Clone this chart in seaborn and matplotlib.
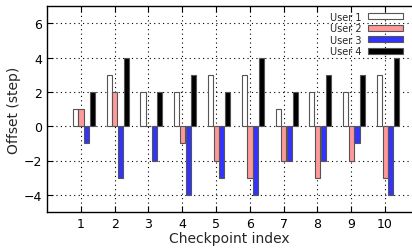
import pandas as pd
import matplotlib
matplotlib.use("Agg")
import matplotlib.pyplot as plt
import seaborn as sns

# data
checkpoints = [1, 2, 3, 4, 5, 6, 7, 8, 9, 10]
user1 = [1, 3, 2, 2, 3, 3, 1, 2, 2, 3]
user2 = [1, 2, 0, -1, -2, -3, -2, -3, -2, -3]
user3 = [-1, -3, -2, -4, -3, -4, -2, -2, -1, -4]
user4 = [2, 4, 2, 3, 2, 4, 2, 3, 3, 4]
users = ["User 1", "User 2", "User 3", "User 4"]
colors = ["#ffffff", "#ff9999", "#3333ff", "#000000"]

rows = []
for name, vals in zip(users, [user1, user2, user3, user4]):
    for c, v in zip(checkpoints, vals):
        rows.append({"checkpoint": c, "offset": v, "user": name})
df = pd.DataFrame(rows)

sns.set_style("ticks")
plt.rcParams['font.family'] = ['DejaVu Sans']

fig = plt.figure(figsize=(4.12, 2.53), dpi=100)
ax = fig.add_axes([47/412, 40/253, 1 - 47/412, 206/253])

sns.barplot(data=df, x="checkpoint", y="offset", hue="user",
            palette=colors, saturation=1, width=0.667, gap=0.1, errorbar=None,
            edgecolor="#555555", linewidth=0.8, ax=ax, zorder=3)

# ticks sit on the second bar of each group
ax.set_xticks([i - 0.09 for i in range(len(checkpoints))])
ax.set_xticklabels([str(c) for c in checkpoints])
ax.set_xlim(-1.09, 9.71)
ax.set_ylim(-5, 7)
ax.set_yticks([-4, -2, 0, 2, 4, 6])

ax.grid(True, linestyle=(0, (1, 3)), color="black", linewidth=0.8, zorder=0)
ax.set_axisbelow(True)
ax.tick_params(direction="in", top=True, right=False, labelsize=9, length=4,
               colors="black")
for s in ["left", "bottom", "top"]:
    ax.spines[s].set_linewidth(1.0)
    ax.spines[s].set_color("black")
ax.spines["right"].set_visible(False)

ax.set_xlabel("Checkpoint index", fontsize=10, labelpad=1)
ax.set_ylabel("Offset (step)", fontsize=10, labelpad=2)

handles, labels = ax.get_legend_handles_labels()
ax.legend(handles, labels, loc="upper right", frameon=False, markerfirst=False,
          fontsize=7, handlelength=3.6, handleheight=0.55, labelspacing=0.15,
          borderaxespad=0.2, handletextpad=0.6, bbox_to_anchor=(0.99, 1.0))

fig.savefig("out.png", dpi=100)
